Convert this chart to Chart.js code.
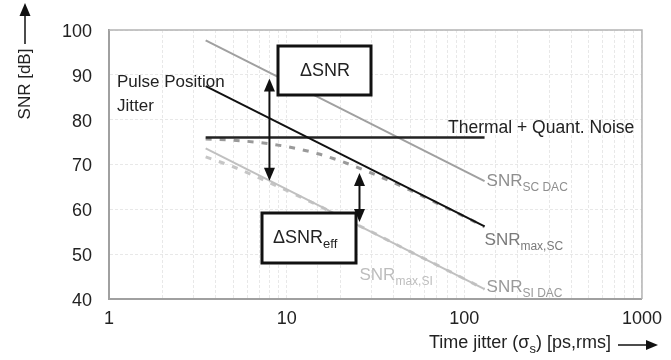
<!DOCTYPE html>
<html>
<head>
<meta charset="utf-8">
<script src="https://cdn.jsdelivr.net/npm/chart.js@4/dist/chart.umd.min.js"></script>
<style>
  body { margin: 0; background: #fff; }
  #wrap { width: 671px; height: 360px; }
</style>
</head>
<body>
<div id="wrap"><canvas id="snrChart" width="671" height="360"></canvas></div>
<script>
// straight lines (20 dB/decade + thermal floor)
const lineX = [3.5, 130]
const scDac = [97.7, 66.3]
const maxSC = [87.5, 56.2]
const thermal = [76, 76]
const maxSI = [73.6, 42.2]

// dashed curves (jitter combined with thermal + quantisation noise)
const curveX = [3.5, 5, 7, 10, 15, 20, 30, 50, 70, 100, 130]
const scDacEff = [75.7, 75.4, 74.9, 74.0, 72.4, 70.8, 68.1, 64.2, 61.4, 58.4, 56.1]
const siDacEff = [71.7, 69.5, 67.0, 64.2, 60.9, 58.4, 55.0, 50.5, 47.6, 44.5, 42.2]

const xTicks = [1, 10, 100, 1000]
const yTicks = [40, 50, 60, 70, 80, 90, 100]

function pts(xs, ys) {
    return xs.map((x, i) => ({ x: x, y: ys[i] }))
}

const FONT = '"Liberation Sans", Arial, sans-serif'

function subText(ctx, x, y, main, sub, size, color) {
    ctx.fillStyle = color
    ctx.textBaseline = 'middle'
    ctx.textAlign = 'left'
    ctx.font = size + 'px ' + FONT
    ctx.fillText(main, x, y)
    var w = ctx.measureText(main).width
    ctx.font = Math.round(size * 0.72) + 'px ' + FONT
    ctx.fillText(sub, x + w, y + size * 0.38)
}

function arrowHead(ctx, x, y, dir) {
    // dir: -1 points up, 1 points down, 2 points right
    ctx.beginPath()
    if (dir === 2) {
        ctx.moveTo(x, y)
        ctx.lineTo(x - 12, y - 5)
        ctx.lineTo(x - 12, y + 5)
    } else {
        ctx.moveTo(x, y)
        ctx.lineTo(x - 5.5, y - dir * 13)
        ctx.lineTo(x + 5.5, y - dir * 13)
    }
    ctx.closePath()
    ctx.fill()
}

function doubleArrow(ctx, px, top, bottom) {
    ctx.strokeStyle = '#111'
    ctx.fillStyle = '#111'
    ctx.lineWidth = 2
    ctx.beginPath()
    ctx.moveTo(px, top + 10)
    ctx.lineTo(px, bottom - 10)
    ctx.stroke()
    arrowHead(ctx, px, top, -1)
    arrowHead(ctx, px, bottom, 1)
}

const annots = {
    id: 'annots',
    beforeDatasetsDraw(chart) {
        const ctx = chart.ctx
        const a = chart.chartArea
        ctx.save()
        ctx.strokeStyle = '#b4b4b4'
        ctx.lineWidth = 1.5
        ctx.beginPath()
        ctx.moveTo(a.left, a.top)
        ctx.lineTo(a.right, a.top)
        ctx.lineTo(a.right, a.bottom)
        ctx.stroke()
        ctx.restore()
    },
    afterDatasetsDraw(chart) {
        const ctx = chart.ctx
        const xs = chart.scales.x
        const ys = chart.scales.y
        const X = v => xs.getPixelForValue(v)
        const Y = v => ys.getPixelForValue(v)
        ctx.save()

        // arrows
        doubleArrow(ctx, X(8), Y(89.2), Y(66.4))
        doubleArrow(ctx, X(25.7), Y(68.1), Y(57.2))

        // boxes
        ctx.lineWidth = 3
        ctx.strokeStyle = '#111'
        ctx.fillStyle = '#fff'
        ctx.fillRect(278, 46, 93, 49)
        ctx.strokeRect(278, 46, 93, 49)
        ctx.fillRect(262, 213, 94, 50)
        ctx.strokeRect(262, 213, 94, 50)

        ctx.fillStyle = '#222'
        ctx.font = '18px ' + FONT
        ctx.textAlign = 'center'
        ctx.textBaseline = 'middle'
        ctx.fillText('\u0394SNR', 325, 71)
        subText(ctx, 273, 238, '\u0394SNR', 'eff', 18, '#222')

        // free text
        ctx.fillStyle = '#222'
        ctx.font = '17px ' + FONT
        ctx.textAlign = 'left'
        ctx.fillText('Pulse Position', 117, 82)
        ctx.fillText('Jitter', 117, 106)
        ctx.font = '17.5px ' + FONT
        ctx.fillText('Thermal + Quant. Noise', 448, 128)

        // curve labels
        subText(ctx, X(130) + 2, Y(66.3), 'SNR', 'SC DAC', 17, '#8e8e8e')
        subText(ctx, X(130), Y(53.1), 'SNR', 'max,SC', 17, '#7a7a7a')
        subText(ctx, X(25.7), Y(45.3), 'SNR', 'max,SI', 17, '#bdbdbd')
        subText(ctx, X(130) + 2, Y(42.6), 'SNR', 'SI DAC', 17, '#9a9a9a')

        // y axis title with arrow
        ctx.save()
        ctx.translate(25, 84)
        ctx.rotate(-Math.PI / 2)
        ctx.fillStyle = '#222'
        ctx.font = '17px ' + FONT
        ctx.textAlign = 'center'
        ctx.textBaseline = 'middle'
        ctx.fillText('SNR [dB]', 0, 0)
        ctx.restore()
        ctx.strokeStyle = '#111'
        ctx.fillStyle = '#111'
        ctx.lineWidth = 1.5
        ctx.beginPath()
        ctx.moveTo(25, 44)
        ctx.lineTo(25, 12)
        ctx.stroke()
        arrowHead(ctx, 25, 3, -1)

        // x axis title with arrow
        subText(ctx, 429, 343, 'Time jitter (\u03C3', 's', 18, '#222')
        ctx.font = '18px ' + FONT
        var w1 = ctx.measureText('Time jitter (\u03C3').width
        ctx.font = '13px ' + FONT
        var w2 = ctx.measureText('s').width
        ctx.font = '18px ' + FONT
        ctx.fillText(') [ps,rms]', 429 + w1 + w2, 343)
        ctx.strokeStyle = '#111'
        ctx.fillStyle = '#111'
        ctx.lineWidth = 1.5
        ctx.beginPath()
        ctx.moveTo(618, 345)
        ctx.lineTo(648, 345)
        ctx.stroke()
        arrowHead(ctx, 658, 345, 2)

        ctx.restore()
    }
}

const ctx = document.getElementById('snrChart').getContext('2d')
const myChart = new Chart(ctx, {
    type: 'line',
    data: {
        datasets: [
            { data: pts(curveX, siDacEff), borderColor: '#c6c6c6', borderWidth: 3, borderDash: [6, 8], cubicInterpolationMode: 'monotone', order: 6 },
            { data: pts(curveX, scDacEff), borderColor: '#9a9a9a', borderWidth: 3, borderDash: [6, 8], cubicInterpolationMode: 'monotone', order: 5 },
            { data: pts(lineX, maxSI), borderColor: '#c0c0c0', borderWidth: 2, order: 4 },
            { data: pts(lineX, scDac), borderColor: '#a0a0a0', borderWidth: 2, order: 3 },
            { data: pts(lineX, thermal), borderColor: '#222', borderWidth: 2.5, order: 2 },
            { data: pts(lineX, maxSC), borderColor: '#111', borderWidth: 2, order: 1 }
        ]
    },
    options: {
        responsive: false,
        animation: false,
        layout: { padding: { left: 0, top: 30, right: 28, bottom: 0 } },
        elements: { point: { radius: 0 }, line: { fill: false } },
        plugins: { legend: { display: false }, tooltip: { enabled: false } },
        scales: {
            x: {
                type: 'logarithmic',
                min: 1,
                max: 1000,
                afterFit: s => { s.height = 61 },
                grid: { color: '#e8e8e8', drawTicks: false },
                border: { color: '#a0a0a0', width: 2, dash: [3, 2] },
                ticks: {
                    autoSkip: false,
                    maxRotation: 0,
                    padding: 9,
                    color: '#222',
                    font: { family: FONT, size: 18 },
                    callback: v => xTicks.includes(v) ? String(v) : ''
                }
            },
            y: {
                min: 40,
                max: 100,
                afterFit: s => { s.width = 109 },
                grid: { color: '#e8e8e8', drawTicks: false },
                border: { color: '#a0a0a0', width: 2, dash: [3, 2] },
                ticks: {
                    stepSize: 10,
                    padding: 17,
                    labelOffset: 2,
                    color: '#222',
                    font: { family: FONT, size: 18 },
                    callback: v => yTicks.includes(v) ? String(v) : ''
                }
            }
        }
    },
    plugins: [annots]
})
</script>
</body>
</html>
